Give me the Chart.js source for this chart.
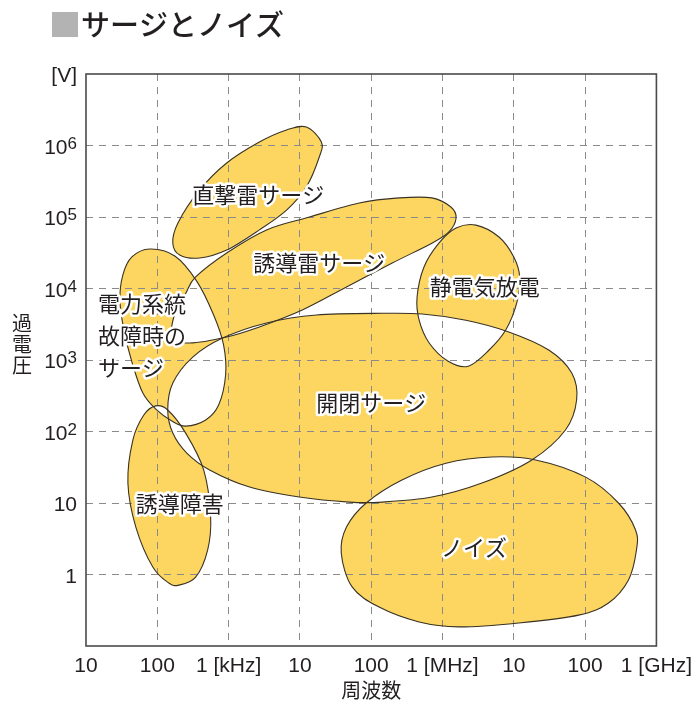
<!DOCTYPE html>
<html lang="ja">
<head>
<meta charset="utf-8">
<title>サージとノイズ</title>
<script src="https://cdn.jsdelivr.net/npm/chart.js@4.4.1/dist/chart.umd.min.js"></script>
<style>
  html, body { margin: 0; padding: 0; background: #fff; }
  canvas { display: block; }
</style>
</head>
<body>
<canvas id="chart" width="700" height="710"></canvas>
<script>
// axis ticks
const xTicks = [1e1, 1e2, 1e3, 1e4, 1e5, 1e6, 1e7, 1e8, 1e9];
const xTickLabels = ['10', '100', '1 [kHz]', '10', '100', '1 [MHz]', '10', '100', '1 [GHz]'];
const yTicks = [1e-1, 1, 1e1, 1e2, 1e3, 1e4, 1e5, 1e6, 1e7];
const yTickLabels = ['', '1', '10', '10^2', '10^3', '10^4', '10^5', '10^6', '[V]'];

// outlines of each region, frequency [Hz] / voltage [V]
const directFreq = [1.23e4, 2.0e4, 1.87e4, 1.23e4, 6.5e3, 2.7e3, 940, 393, 206, 165, 194, 393, 940, 2.7e3, 6.5e3];
const directVolt = [1.82e6, 1.12e6, 6.9e5, 2.63e5, 1.25e5, 6.6e4, 3.45e4, 2.67e4, 2.94e4, 4.3e4, 8.2e4, 2.39e5, 5.7e5, 1.12e6, 1.65e6];

const inducedFreq = [1.55e6, 1.31e6, 7.1e5, 2.47e5, 6.8e4, 1.36e4, 3.4e3, 940, 345, 250, 182, 160, 285, 940, 2.7e3, 1.08e4, 4.5e4, 1.97e5, 7.1e5, 1.23e6];
const inducedVolt = [9.7e4, 1.38e5, 1.85e5, 1.85e5, 1.57e5, 1.0e5, 6.6e4, 3.14e4, 1.45e4, 8.5e3, 5.0e3, 2.03e3, 1.73e3, 2.1e3, 2.9e3, 5.0e3, 1.05e4, 2.27e4, 4.3e4, 6.2e4];

const powerFreq = [29.9, 34, 44, 62.7, 98, 160, 250, 477, 725, 908, 851, 617, 357, 176, 78.5, 44, 32.9];
const powerVolt = [6.9e3, 2.63e3, 940, 345, 200, 140, 119, 145, 235, 617, 1.62e3, 4.26e3, 1.27e4, 2.85e4, 3.57e4, 2.76e4, 1.55e4];

const esdFreq = [2.94e6, 6.2e6, 1.0e7, 1.21e7, 1.10e7, 7.7e6, 4.5e6, 2.3e6, 1.2e6, 6.5e5, 4.7e5, 4.4e5, 5.5e5, 8.9e5, 1.55e6];
const esdVolt = [7.7e4, 5.25e4, 2.76e4, 1.45e4, 6.3e3, 2.63e3, 1.38e3, 820, 960, 1.73e3, 3.6e3, 7.6e3, 2.0e4, 4.3e4, 7.0e4];

const switchFreq = [1.43e5, 1.70e4, 3.4e3, 824, 314, 165, 140, 165, 259, 542, 1.97e3, 9.8e3, 4.9e4, 1.43e5, 7.1e5, 3.57e6, 1.79e7, 5.3e7, 7.6e7, 6.5e7, 3.09e7, 8.5e6, 2.13e6, 5.2e5];
const switchVolt = [4.5e3, 4.26e3, 3.3e3, 2.03e3, 1.10e3, 476, 200, 95, 50, 29, 16.7, 12.1, 10.3, 10.3, 12.1, 19, 40, 105, 276, 658, 1.38e3, 2.47e3, 3.6e3, 4.4e3];

const interferenceFreq = [95, 140, 250, 447, 560, 508, 345, 200, 145, 86.5, 50, 38.7, 45.4, 64.7];
const interferenceVolt = [228, 200, 95, 29, 6.4, 2.2, 0.92, 0.71, 0.76, 1.27, 4.6, 19, 76, 170];

const noiseFreq = [4.9e6, 2.03e7, 1.02e8, 2.94e8, 5.1e8, 5.25e8, 4.06e8, 2.13e8, 8.1e7, 1.17e7, 1.7e6, 4.7e5, 1.29e5, 5.4e4, 3.8e4, 4.5e4, 8.5e4, 2.7e5, 1.12e6];
const noiseVolt = [44, 40, 23, 10, 4.2, 2.2, 0.84, 0.40, 0.27, 0.21, 0.185, 0.217, 0.35, 0.67, 2.0, 4.6, 10, 21, 36];

const regions = [
    { name: '直撃雷サージ', freq: directFreq, volt: directVolt, at: [2.6e3, 2.03e5] },
    { name: '誘導雷サージ', freq: inducedFreq, volt: inducedVolt, at: [1.87e4, 2.27e4] },
    { name: '電力系統\n故障時の\nサージ', freq: powerFreq, volt: powerVolt, at: [14.7, 2.17e3], left: true },
    { name: '静電気放電', freq: esdFreq, volt: esdVolt, at: [3.9e6, 1.05e4] },
    { name: '開閉サージ', freq: switchFreq, volt: switchVolt, at: [1e5, 250] },
    { name: '誘導障害', freq: interferenceFreq, volt: interferenceVolt, at: [206, 9.7] },
    { name: 'ノイズ', freq: noiseFreq, volt: noiseVolt, at: [2.76e6, 2.4] }
];

const JP = '"Noto Sans CJK JP", "Noto Sans", sans-serif';
const LATIN = '"Liberation Sans", Arial, sans-serif';
const INK = '#231f20';

// closed catmull-rom curve through the points
function tracePath(ctx, pts) {
    const n = pts.length;
    ctx.moveTo(pts[0].x, pts[0].y);
    for (let i = 0; i < n; i++) {
        const p0 = pts[(i - 1 + n) % n], p1 = pts[i], p2 = pts[(i + 1) % n], p3 = pts[(i + 2) % n];
        ctx.bezierCurveTo(
            p1.x + (p2.x - p0.x) / 6, p1.y + (p2.y - p0.y) / 6,
            p2.x - (p3.x - p1.x) / 6, p2.y - (p3.y - p1.y) / 6,
            p2.x, p2.y
        );
    }
    ctx.closePath();
}

function regionPoints(chart, i) {
    return chart.getDatasetMeta(i).data.map(el => ({ x: el.x, y: el.y }));
}

const regionPlugin = {
    id: 'regions',
    beforeDraw(chart) {
        // fill below the grid, overlaps cancel out (even-odd)
        const ctx = chart.ctx;
        ctx.save();
        ctx.beginPath();
        regions.forEach((r, i) => tracePath(ctx, regionPoints(chart, i)));
        ctx.fillStyle = '#fcd660';
        ctx.fill('evenodd');
        ctx.restore();
    },
    beforeDatasetsDraw(chart) {
        const ctx = chart.ctx;
        ctx.save();
        ctx.strokeStyle = '#3a3324';
        ctx.lineWidth = 1.1;
        regions.forEach((r, i) => {
            ctx.beginPath();
            tracePath(ctx, regionPoints(chart, i));
            ctx.stroke();
        });
        ctx.restore();
    },
    afterDraw(chart) {
        const ctx = chart.ctx;
        const { left, top, right, bottom } = chart.chartArea;
        const xs = chart.scales.x, ys = chart.scales.y;
        ctx.save();

        // frame
        ctx.strokeStyle = '#4a4a4a';
        ctx.lineWidth = 1.6;
        ctx.strokeRect(left, top, right - left, bottom - top);

        // y tick labels with exponents
        ctx.fillStyle = INK;
        ctx.textAlign = 'left';
        ctx.textBaseline = 'alphabetic';
        yTicks.forEach((v, i) => {
            const [base, exp] = yTickLabels[i].split('^');
            if (!base) return;
            const py = ys.getPixelForValue(v);
            const edge = left - 9;
            ctx.font = '17px ' + LATIN;
            const ew = exp ? ctx.measureText(exp).width : 0;
            ctx.font = '21px ' + LATIN;
            const bw = ctx.measureText(base).width;
            ctx.fillText(base, edge - ew - bw, py + 8);
            if (exp) {
                ctx.font = '17px ' + LATIN;
                ctx.fillText(exp, edge - ew, py + 3);
            }
        });

        // region labels with white halo
        ctx.font = '22px ' + JP;
        ctx.lineJoin = 'round';
        ctx.textBaseline = 'middle';
        regions.forEach(r => {
            const px = xs.getPixelForValue(r.at[0]);
            const py = ys.getPixelForValue(r.at[1]);
            const lines = r.name.split('\n');
            ctx.textAlign = r.left ? 'left' : 'center';
            lines.forEach((t, k) => {
                const ly = py + (k - (lines.length - 1) / 2) * 32;
                ctx.strokeStyle = '#fff';
                ctx.lineWidth = 5;
                ctx.strokeText(t, px, ly);
                ctx.fillStyle = INK;
                ctx.fillText(t, px, ly);
            });
        });

        // axis titles
        ctx.fillStyle = INK;
        ctx.textAlign = 'center';
        ctx.font = '20px ' + JP;
        ctx.fillText('周波数', (left + right) / 2, 690);
        ['過', '電', '圧'].forEach((c, k) => ctx.fillText(c, 22, 323 + k * 21));

        // chart title
        ctx.fillStyle = '#b3b3b3';
        ctx.fillRect(52, 12, 26, 25);
        ctx.fillStyle = INK;
        ctx.textAlign = 'left';
        ctx.font = '500 29px ' + JP;
        ctx.fillText('サージとノイズ', 81, 25);
        ctx.restore();
    }
};

const gridColor = (c) => (c.index === 0 || c.index === 8) ? 'rgba(0,0,0,0)' : '#8a8a8a';

new Chart(document.getElementById('chart'), {
    type: 'scatter',
    data: {
        datasets: regions.map(r => ({
            label: r.name,
            data: r.freq.map((f, i) => ({ x: f, y: r.volt[i] })),
            showLine: false,
            pointRadius: 0,
            pointHoverRadius: 0
        }))
    },
    options: {
        responsive: false,
        animation: false,
        events: [],
        layout: { padding: { left: 0, right: 42, top: 74, bottom: 0 } },
        plugins: {
            legend: { display: false },
            tooltip: { enabled: false }
        },
        scales: {
            x: {
                type: 'logarithmic',
                min: 10,
                max: 1e9,
                afterBuildTicks: (scale) => { scale.ticks = xTicks.map(v => ({ value: v })); },
                afterFit: (scale) => { scale.height = 64; },
                border: { display: false, dash: [7, 6] },
                grid: { color: gridColor, lineWidth: 1, drawTicks: false },
                ticks: {
                    padding: 8,
                    maxRotation: 0,
                    autoSkip: false,
                    color: INK,
                    font: { family: LATIN, size: 21 },
                    callback: (value, index) => xTickLabels[index]
                }
            },
            y: {
                type: 'logarithmic',
                min: 0.1,
                max: 1e7,
                afterBuildTicks: (scale) => { scale.ticks = yTicks.map(v => ({ value: v })); },
                afterFit: (scale) => { scale.width = 86; },
                border: { display: false, dash: [7, 6] },
                grid: { color: gridColor, lineWidth: 1, drawTicks: false },
                ticks: { display: false }
            }
        }
    },
    plugins: [regionPlugin]
});
</script>
</body>
</html>
